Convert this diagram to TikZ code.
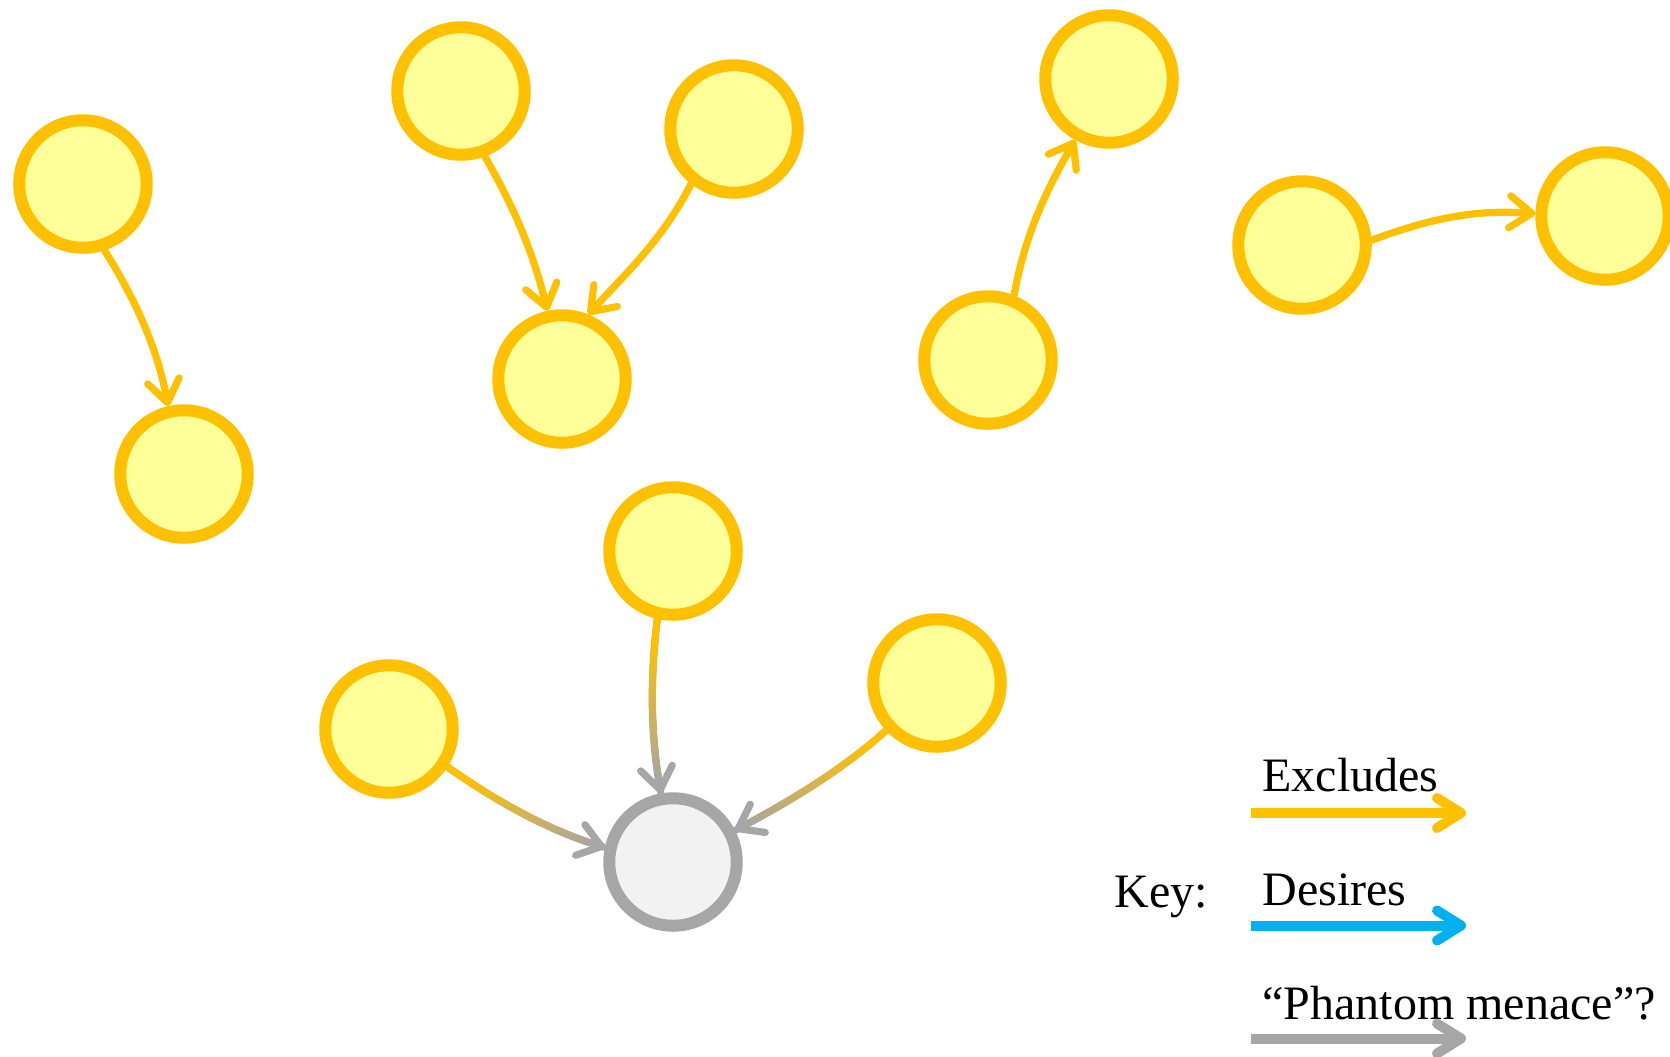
\documentclass[tikz,border=0pt]{standalone}
\usepackage{fontspec}
\setmainfont{Liberation Serif}
\usetikzlibrary{arrows.meta,decorations.markings}
\definecolor{gold}{HTML}{FFC000}
\definecolor{pale}{HTML}{FFFF99}
\definecolor{gline}{HTML}{A6A6A6}
\definecolor{gfill}{HTML}{F2F2F2}
\definecolor{sky}{HTML}{00B0F0}
\begin{document}
\begin{tikzpicture}[x=0.5pt,y=-0.5pt,
 ynode/.style={circle, draw=gold, fill=pale, line width=6pt, minimum size=63.75pt, inner sep=0pt},
 gnode/.style={circle, draw=gline, fill=gfill, line width=6pt, minimum size=63.75pt, inner sep=0pt},
 excl/.style={draw=gold, line width=3.6pt, line cap=round, -{Straight Barb[length=11pt,width=16pt,line width=3.6pt,round]}},
 phant/.style={draw=gline, line width=3.6pt, line cap=round, -{Straight Barb[length=11pt,width=16pt,line width=3.6pt,round]}},
 blend/.style={decorate, decoration={markings,
   mark=between positions 0 and 1 step 0.6pt with {%
     \pgfmathsetmacro\gpct{max(0,min(100,100*(0.95-\pgfkeysvalueof{/pgf/decoration/mark info/distance from start}/\pgfdecoratedpathlength)/0.8))}%
     \colorlet{blendc}{gold!\gpct!gline}%
     \fill[blendc] (0,0) circle (1.8pt);}}},
 keyarrow/.style={line width=5pt, -{Straight Barb[length=12pt,width=15pt,line width=5pt,round]}},
 lbl/.style={anchor=base west, font=\fontsize{24pt}{28pt}\selectfont, inner sep=0pt}]
\useasboundingbox (0,0) rectangle (1670,1056);
\clip (0,0) rectangle (1670,1056);

% nodes
\node[ynode] (n1) at (83,184) {};
\node[ynode] (n2) at (184,474) {};
\node[ynode] (n3) at (461,91) {};
\node[ynode] (n4) at (734,129) {};
\node[ynode] (n5) at (562,379) {};
\node[ynode] (n6) at (1109,79) {};
\node[ynode] (n7) at (988,360) {};
\node[ynode] (n8) at (1302,245) {};
\node[ynode] (n9) at (1605,216) {};
\node[ynode] (n10) at (673,551) {};
\node[ynode] (n11) at (389,729) {};
\node[ynode] (n12) at (937,683) {};
\node[gnode] (n13) at (673,862) {};

% excludes edges
\draw[excl] (n1.-72) .. controls +(-58:30pt) and +(101:30pt) .. (n2.103);
\draw[excl] (n3.-70) .. controls +(-60:30pt) and +(104:30pt) .. (n5.102);
\draw[excl] (n4.-128) .. controls +(-117:30pt) and +(47:30pt) .. (n5.68);
\draw[excl] (n7.68) .. controls +(80:30pt) and +(-120:30pt) .. (n6.-119);
\draw[excl] (n8.4) .. controls +(20:30pt) and +(176:32pt) .. (n9.178);

% phantom edges (gold fading to grey)
\draw[phant] (n10.-103) .. controls +(-97:30pt) and +(100:30pt) .. (n13.100);
\path[blend] (n10.-103) .. controls +(-97:30pt) and +(100:30pt) .. (n13.100);
\draw[phant] (n11.-33) .. controls +(-35:30pt) and +(163:30pt) .. (n13.168);
\path[blend] (n11.-33) .. controls +(-35:30pt) and +(163:30pt) .. (n13.168);
\draw[phant] (n12.-137) .. controls +(-138:30pt) and +(28:30pt) .. (n13.27);
\path[blend] (n12.-137) .. controls +(-138:30pt) and +(28:30pt) .. (n13.27);

% key
\node[lbl] (key) at (1114,907) {Key:};
\node[lbl] (lex) at (1262,791) {Excludes};
\node[lbl] (lde) at (1262,905) {Desires};
\node[lbl] (lph) at (1262,1019) {“Phantom menace”?};
\coordinate (a1s) at (1251,813); \coordinate (a1e) at (1466,813);
\coordinate (a2s) at (1251,925.5); \coordinate (a2e) at (1466,925.5);
\coordinate (a3s) at (1251,1038.5); \coordinate (a3e) at (1466,1038.5);
\draw[keyarrow, draw=gold] (a1s) -- (a1e);
\draw[keyarrow, draw=sky] (a2s) -- (a2e);
\draw[keyarrow, draw=gline] (a3s) -- (a3e);
\end{tikzpicture}
\end{document}
